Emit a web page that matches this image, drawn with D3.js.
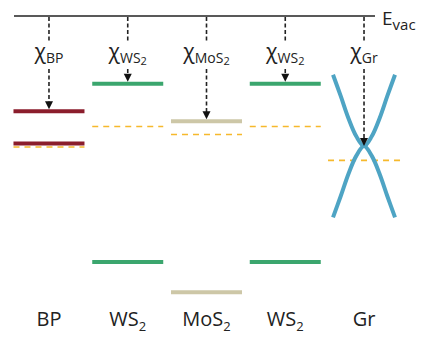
<!DOCTYPE html>
<html>
<head>
<meta charset="utf-8">
<script src="https://cdn.jsdelivr.net/npm/d3@7"></script>
<style>
  body { margin: 0; background: #fff; }
  svg { display: block; font-family: "Open Sans", sans-serif; }
</style>
</head>
<body>
<div class="chart"></div>
<script>
// band alignment data (energies in eV below the vacuum level)
const materials = ["BP", "WS2a", "MoS2", "WS2b", "Gr"];
const nameMain = ["BP", "WS", "MoS", "WS", "Gr"];
const nameSub = ["", "2", "2", "2", ""];
const cbEnergy = [1.07, 0.76, 1.18, 0.76, null];
const vbEnergy = [1.43, 2.76, 3.10, 2.76, null];
const fermiEnergy = [1.47, 1.24, 1.33, 1.24, 1.62];
const chiEnergy = [1.07, 0.76, 1.18, 0.76, 1.46];
const bandColor = ["#8b1d2c", "#3ba66e", "#cdc7a7", "#3ba66e", "#4ea4c4"];

// graphene dirac cone
const grK = [-1, -0.75, -0.5, -0.25, 0, 0.25, 0.5, 0.75, 1];
const grUpper = [0.66, 0.90, 1.15, 1.35, 1.46, 1.35, 1.15, 0.90, 0.66];
const grLower = [2.26, 2.02, 1.77, 1.57, 1.46, 1.57, 1.77, 2.02, 2.26];

const width = 423, height = 340;
const barW = 71;

const svg = d3.select(".chart").append("svg")
    .attr("width", width)
    .attr("height", height);

const xScale = d3.scalePoint()
    .domain(materials)
    .range([9.6, 403.4])
    .padding(0.5);

const yScale = d3.scaleLinear()
    .domain([0, 3.3])
    .range([16, 310]);

const kScale = d3.scaleLinear()
    .domain([-1, 1])
    .range([xScale("Gr") - 31, xScale("Gr") + 31]);

// vacuum level
svg.append("line")
    .attr("x1", 14).attr("x2", 375)
    .attr("y1", yScale(0)).attr("y2", yScale(0))
    .attr("stroke", "#222").attr("stroke-width", 1.5);

const evac = svg.append("text")
    .attr("x", 382).attr("y", 25)
    .attr("font-size", 19).attr("fill", "#222");
evac.append("tspan").text("E");
evac.append("tspan").attr("font-size", 15).attr("dy", 5).text("vac");

const semis = materials.map((m, i) => ({m, i})).filter(d => cbEnergy[d.i] !== null);

// fermi levels (dashed)
svg.selectAll(".fermi")
    .data(materials)
    .join("line")
    .attr("class", "fermi")
    .attr("x1", (d, i) => xScale(d) - (d === "Gr" ? 36 : barW / 2))
    .attr("x2", (d, i) => xScale(d) + (d === "Gr" ? 36 : barW / 2))
    .attr("y1", (d, i) => yScale(fermiEnergy[i]))
    .attr("y2", (d, i) => yScale(fermiEnergy[i]))
    .attr("stroke", "#f6b92c")
    .attr("stroke-width", 1.6)
    .attr("stroke-dasharray", "6,5");

// conduction and valence bands
["cb", "vb"].forEach(k => {
    const arr = k === "cb" ? cbEnergy : vbEnergy;
    svg.selectAll("." + k)
        .data(semis)
        .join("line")
        .attr("class", k)
        .attr("x1", d => xScale(d.m) - barW / 2)
        .attr("x2", d => xScale(d.m) + barW / 2)
        .attr("y1", d => yScale(arr[d.i]))
        .attr("y2", d => yScale(arr[d.i]))
        .attr("stroke", d => bandColor[d.i])
        .attr("stroke-width", 4);
});

// graphene cone
const cone = d3.line()
    .x(d => kScale(d[0]))
    .y(d => yScale(d[1]))
    .curve(d3.curveCatmullRom);

[grUpper, grLower].forEach(arr => {
    svg.append("path")
        .datum(grK.map((k, j) => [k, arr[j]]))
        .attr("d", cone)
        .attr("fill", "none")
        .attr("stroke", bandColor[4])
        .attr("stroke-width", 4);
});

// electron affinity arrows
materials.forEach((m, i) => {
    const x = xScale(m);
    const tip = yScale(chiEnergy[i]) - (m === "Gr" ? 0 : 2);
    svg.append("line")
        .attr("x1", x).attr("x2", x)
        .attr("y1", yScale(0) + 1).attr("y2", tip - 6)
        .attr("stroke", "#222").attr("stroke-width", 1.6)
        .attr("stroke-dasharray", "4,2.5");
    svg.append("path")
        .attr("d", `M${x - 4},${tip - 8}L${x + 4},${tip - 8}L${x},${tip}Z`)
        .attr("fill", "#111");

    // chi label with white box behind it
    const g = svg.append("g");
    const bg = g.append("rect").attr("fill", "#fff");
    const t = g.append("text")
        .attr("x", x).attr("y", 59)
        .attr("text-anchor", "middle")
        .attr("fill", "#222")
        .attr("font-size", 21);
    t.append("tspan").text("χ");
    t.append("tspan").attr("font-size", 14).attr("dy", 4).text(nameMain[i]);
    if (nameSub[i]) t.append("tspan").attr("font-size", 11).attr("dy", 2).text(nameSub[i]);
    const bb = t.node().getBBox();
    bg.attr("x", bb.x - 2).attr("y", 41)
        .attr("width", bb.width + 4).attr("height", 27);
});

// material names at bottom
materials.forEach((m, i) => {
    const t = svg.append("text")
        .attr("x", xScale(m)).attr("y", 326)
        .attr("text-anchor", "middle")
        .attr("fill", "#222")
        .attr("font-size", 20);
    t.append("tspan").text(nameMain[i]);
    if (nameSub[i]) t.append("tspan").attr("font-size", 13).attr("dy", 5).text(nameSub[i]);
});
</script>
</body>
</html>
